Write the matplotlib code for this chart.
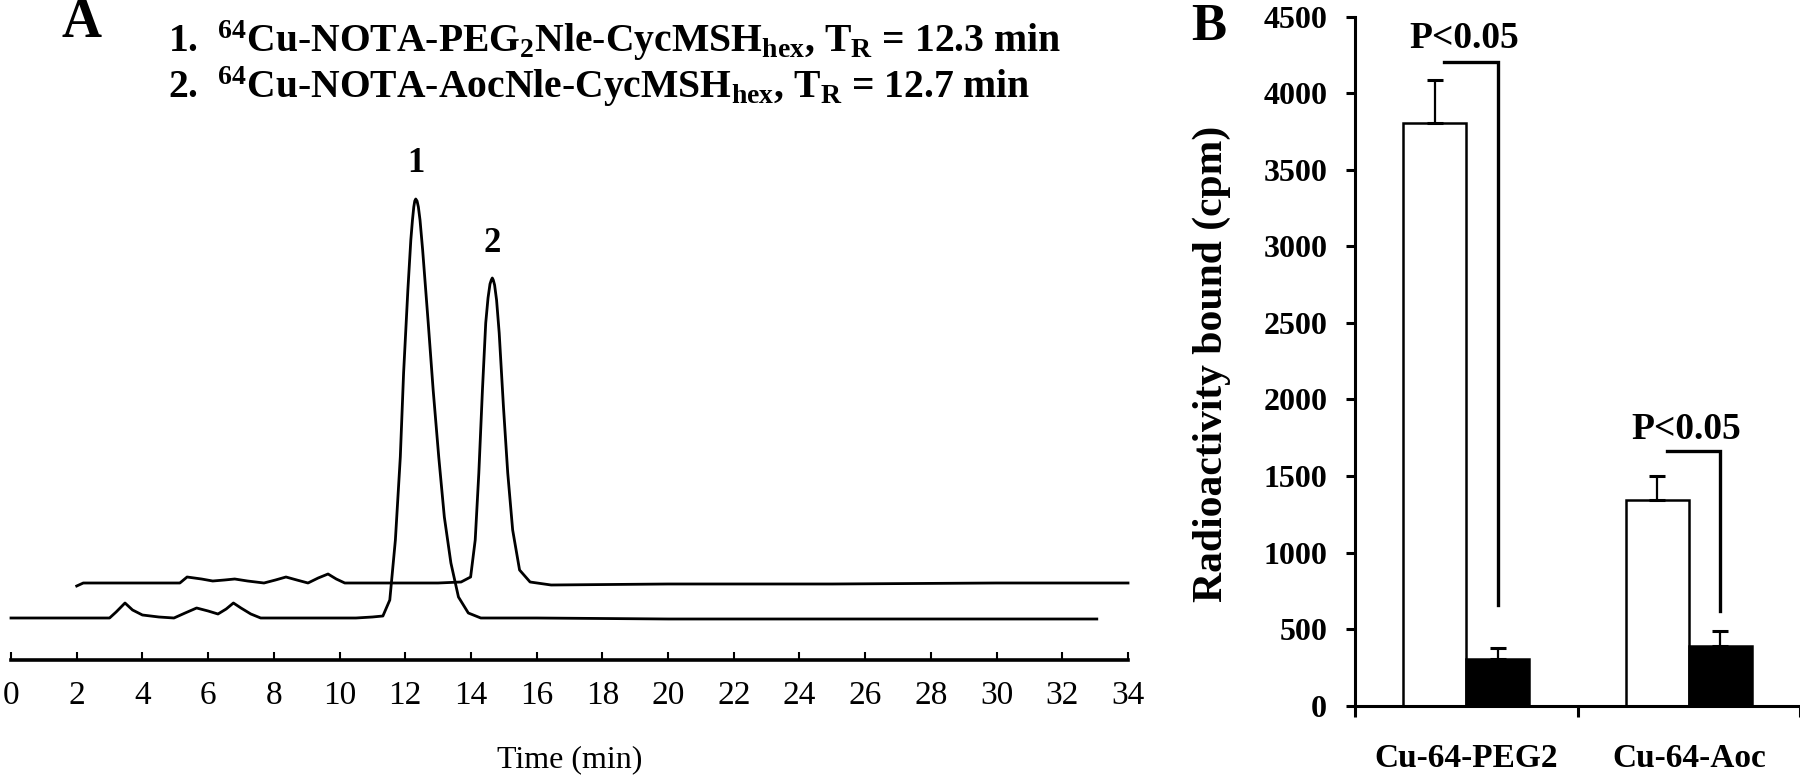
import matplotlib
matplotlib.use("Agg")
import matplotlib.pyplot as plt
import numpy as np

plt.rcParams["font.family"] = "Liberation Serif"
plt.rcParams["mathtext.fontset"] = "custom"
plt.rcParams["mathtext.rm"] = "Liberation Serif:bold"
plt.rcParams["mathtext.it"] = "Liberation Serif:bold"
plt.rcParams["mathtext.bf"] = "Liberation Serif:bold"

# ---------------- Panel A: radio-HPLC traces (signal in a.u.) ----------------
# 64Cu-NOTA-PEG2Nle-CycMSHhex (lower trace, peak 1)
peg2_time = [0.0, 1.0, 2.0, 3.0, 3.2, 3.47, 3.7, 4.0, 4.5, 4.96, 5.3, 5.65, 6.0, 6.3,
             6.55, 6.77, 7.0, 7.3, 7.6, 9.0, 10.5, 11.0, 11.32, 11.53, 11.70, 11.85,
             11.95, 12.08, 12.17, 12.22, 12.26, 12.29, 12.32, 12.36, 12.40, 12.45,
             12.53, 12.70, 12.85, 13.02, 13.19, 13.39, 13.62, 13.92, 14.30, 16.0,
             20.0, 25.0, 30.0, 33.05]
peg2_signal = [42, 42, 42, 42, 48, 57, 50, 45, 43, 42, 47, 52, 49, 46,
               51, 57, 52, 46, 42, 42, 42, 43, 44, 60, 120, 203,
               287, 370, 420, 440, 453, 459, 461, 459, 453, 440,
               410, 337, 270, 203, 143, 97, 63, 47, 42, 42,
               41, 41, 41, 41]

# 64Cu-NOTA-AocNle-CycMSHhex (upper trace, peak 2)
aoc_time = [2.0, 2.2, 3.0, 4.0, 5.14, 5.36, 5.8, 6.14, 6.5, 6.81, 7.2, 7.7, 8.05,
            8.37, 8.7, 9.04, 9.35, 9.65, 9.9, 10.16, 11.0, 12.0, 13.0, 13.7, 13.99,
            14.13, 14.24, 14.35, 14.45, 14.52, 14.58, 14.62, 14.65, 14.68, 14.72,
            14.78, 14.86, 14.99, 15.12, 15.27, 15.48, 15.80, 16.44, 20.0, 25.0,
            30.0, 34.0]
aoc_signal = [74, 77, 77, 77, 77, 83, 81, 79, 80, 81, 79, 77, 80,
              83, 80, 77, 82, 86, 81, 77, 77, 77, 77, 78, 83,
              120, 187, 270, 337, 362, 376, 380, 382, 380, 375,
              360, 327, 253, 187, 130, 90, 78, 75, 76, 76,
              77, 77]

peak_labels = ["1", "2"]
peak_label_pos = [(12.32, 496), (14.65, 417)]

time_ticks = list(range(0, 35, 2))

# ---------------- Panel B: cell binding ----------------
groups = ["Cu-64-PEG2", "Cu-64-Aoc"]
open_mean = [3805, 1343]
open_err = [285, 159]
filled_mean = [305, 392]
filled_err = [70, 96]
sig_text = ["P<0.05", "P<0.05"]
bracket_top = [4204, 1663]
bracket_bottom = [658, 620]
text_y = [4361, 1801]

fig = plt.figure(figsize=(18, 7.8), dpi=100)

# ---- A ----
axA = fig.add_axes([11 / 1800, 120 / 780, 1117 / 1800, 530 / 780])
axA.plot(peg2_time, peg2_signal, color="black", lw=2.0, clip_on=False)
axA.plot(aoc_time, aoc_signal, color="black", lw=2.0, clip_on=False)
axA.set_xlim(0, 34)
axA.set_ylim(0, 530)
for s in ["top", "right", "left"]:
    axA.spines[s].set_visible(False)
axA.spines["bottom"].set_linewidth(2.6)
axA.set_yticks([])
axA.set_xticks(time_ticks)
axA.tick_params(axis="x", direction="in", length=6, width=1.5, pad=14.5, labelsize=24)
axA.set_xlabel("Time (min)", fontsize=23, labelpad=25)
for lab, (px, py) in zip(peak_labels, peak_label_pos):
    axA.text(px, py, lab, ha="center", va="center", fontsize=25, fontweight="bold")

fig.text(81 / 1800, 1 - 23 / 780, "A", ha="center", va="center", fontsize=40, fontweight="bold")
fig.text(168 / 1800, 1 - 52 / 780,
         r"1.  $^{\mathregular{64}}$Cu-NOTA-PEG$_{\mathregular{2}}$Nle-CycMSH$_{\mathregular{hex}}$, "
         r"T$_{\mathregular{R}}$ = 12.3 min",
         ha="left", va="baseline", fontsize=28.5, fontweight="bold")
fig.text(168 / 1800, 1 - 98 / 780,
         r"2.  $^{\mathregular{64}}$Cu-NOTA-AocNle-CycMSH$_{\mathregular{hex}}$, "
         r"T$_{\mathregular{R}}$ = 12.7 min",
         ha="left", va="baseline", fontsize=28.5, fontweight="bold")

# ---- B ----
axB = fig.add_axes([1355 / 1800, 74.3 / 780, 445 / 1800, 688.95 / 780])
x = np.arange(len(groups))
w = 0.284
ekw = dict(elinewidth=1.6, capthick=2.2, ecolor="black")
axB.bar(x - w / 2, open_mean, w, color="white", edgecolor="black", linewidth=1.8,
        yerr=[[0, 0], open_err], capsize=5.5, error_kw=ekw)
axB.bar(x + w / 2, filled_mean, w, color="black", edgecolor="black", linewidth=1.8,
        yerr=[[0, 0], filled_err], capsize=5.5, error_kw=ekw)

for i in range(len(groups)):
    xr = x[i] + w / 2
    axB.plot([x[i] - 0.10, xr, xr], [bracket_top[i], bracket_top[i], bracket_bottom[i]],
             color="black", lw=2.4, solid_joinstyle="miter")
    axB.text(x[i] - 0.01, text_y[i], sig_text[i], ha="center", va="center",
             fontsize=27, fontweight="bold")

axB.set_xlim(-0.5, 1.5)
axB.set_ylim(0, 4500)
axB.set_yticks(np.arange(0, 4501, 500))
for s in ["top", "right"]:
    axB.spines[s].set_visible(False)
axB.spines["left"].set_linewidth(2.2)
axB.spines["bottom"].set_linewidth(2.2)
axB.set_xticks([-0.5, 0.5, 1.5])
axB.set_xticklabels(["", "", ""])
axB.set_xticks(x, minor=True)
axB.set_xticklabels(groups, minor=True, fontsize=24, fontweight="bold")
axB.tick_params(axis="x", which="major", direction="out", length=8, width=2.2)
axB.tick_params(axis="x", which="minor", length=0, pad=27)
axB.tick_params(axis="y", direction="out", length=6.5, width=2.2, pad=13.5, labelsize=23)
for t in axB.get_yticklabels():
    t.set_fontweight("bold")

fig.text(1212 / 1800, 1 - 364 / 780, "Radioactivity bound (cpm)", rotation=90,
         ha="center", va="center", fontsize=30, fontweight="bold")
fig.text(1209 / 1800, 1 - 27 / 780, "B", ha="center", va="center", fontsize=38, fontweight="bold")

fig.savefig("out.png", dpi=100)
